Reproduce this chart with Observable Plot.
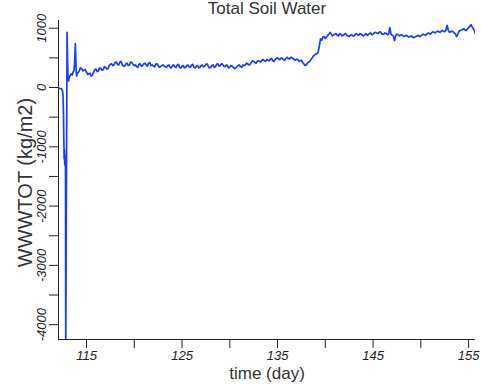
<!DOCTYPE html>
<html><head><meta charset="utf-8">
<script src="https://cdn.jsdelivr.net/npm/d3@7"></script>
<script src="https://cdn.jsdelivr.net/npm/@observablehq/plot@0.6"></script>
<style>body{margin:0;background:#fff} svg{display:block}</style>
</head><body><div id="chart"></div>
<script>
const title = "Total Soil Water";
const xLabel = "time (day)";
const yLabel = "WWWTOT (kg/m2)";
const xDomain = [112.07, 155.72];
const yDomain = [-4250, 1130];
const xTicks = [115, 120, 125, 130, 135, 140, 145, 150, 155];
const xTickLabels = [115, 125, 135, 145, 155];
const yTicks = [-4000, -3500, -3000, -2500, -2000, -1500, -1000, -500, 0, 500, 1000];
const yTickLabels = [-4000, -3000, -2000, -1000, 0, 1000];

// start-up transient
const earlyDays = [112.07,112.2,112.35,112.45,112.5,112.55,112.6,112.63,112.66,112.69,112.72,112.75,112.78,112.8,112.83,112.97,113.02,113.07,113.12,113.2,113.3,113.4,113.5,113.6,113.7,113.77,113.83,113.87,113.92,113.97];
const earlyVals = [-10,-15,-20,-35,-70,-160,-520,-900,-1200,-1050,-1300,-1230,-1330,-1150,-4400,930,450,150,110,170,200,230,210,260,290,450,740,560,280,190];

// main record, every 0.25 day from day 114 (mainVals) and the readings half-way between (midVals)
const mainStart = 114.0;
const mainStep = 0.25;
const mainVals = [
230,280,320,290,260,230,190,260,310,280,320,300,340,320,390,370,420,390,430,380,
360,410,380,420,370,350,390,360,400,380,410,370,360,390,370,350,380,350,370,340,
370,350,380,340,360,330,370,350,380,340,360,330,370,350,390,360,340,380,350,400,
370,390,350,370,340,360,320,350,380,340,370,410,380,420,440,410,450,430,470,440,
460,480,450,470,500,470,490,460,510,480,500,470,480,440,460,400,380,430,470,530,
560,600,820,850,830,880,930,870,900,880,910,870,900,880,860,890,870,910,880,900,
870,910,890,920,900,930,910,940,900,920,890,1010,880,790,900,870,890,860,880,850,
870,840,860,880,870,900,880,920,900,940,920,950,930,960,940,1050,930,950,920,860,
950,970,990,960,1010,1060,990,890];
const midVals = [
250,330,280,300,220,240,210,300,270,330,290,350,310,370,400,380,430,380,440,360,
400,370,430,390,380,340,400,370,410,360,420,380,350,400,340,370,360,340,380,330,
380,340,390,330,370,340,380,340,390,330,370,340,380,360,400,330,370,340,390,360,
400,360,380,330,370,340,330,370,350,380,380,400,390,450,420,440,440,460,450,470,
450,490,440,490,480,500,470,490,490,510,490,460,470,450,420,370,410,440,500,550,
570,700,800,860,850,900,900,890,910,870,900,880,910,870,880,870,900,890,910,880,
890,880,910,890,920,920,930,910,900,910,900,900,870,880,890,880,870,870,860,860,
850,850,870,860,890,890,900,910,920,930,940,940,950,950,970,960,940,940,900,900,
960,980,970,990,1030,1020,950];

const data = earlyDays.map((d, i) => ({day: d, v: earlyVals[i]}));
mainVals.forEach((v, i) => {
  data.push({day: mainStart + i * mainStep, v});
  if (i < midVals.length) data.push({day: mainStart + (i + 0.5) * mainStep, v: midVals[i]});
});

const font = "'Liberation Sans', Arial, Helvetica, sans-serif";
const ink = "#222";

const chart = Plot.plot({
  width: 481,
  height: 384,
  marginLeft: 58,
  marginRight: 6,
  marginTop: 20,
  marginBottom: 45,
  style: {fontFamily: font, background: "#fff", color: ink},
  x: {domain: xDomain},
  y: {domain: yDomain},
  marks: [
    Plot.axisX({ticks: xTicks, tickSize: 9, tickPadding: 2, fontSize: 13, fontStyle: "italic",
      tickFormat: d => xTickLabels.includes(d) ? String(d) : "", label: null, stroke: ink}),
    Plot.axisY({ticks: yTicks, tickSize: 9, tickFormat: () => "", label: null, stroke: ink}),
    Plot.text(yTickLabels, {frameAnchor: "left", y: d => d, text: d => String(d), rotate: -90,
      dx: -13, lineAnchor: "bottom", textAnchor: "middle", fontSize: 13, fontStyle: "italic", fill: ink}),
    Plot.ruleX([xDomain[0]], {stroke: ink}),
    Plot.ruleY([yDomain[0]], {stroke: ink}),
    Plot.line(data, {x: "day", y: "v", stroke: "#1540ff", strokeWidth: 1.7, clip: true}),
    Plot.text([title], {frameAnchor: "top", lineAnchor: "bottom", dy: -7, fontSize: 17, fill: "#333"}),
    Plot.text([xLabel], {frameAnchor: "bottom", lineAnchor: "bottom", dy: 39, fontSize: 17, fill: "#333"}),
    Plot.text([yLabel], {frameAnchor: "left", rotate: -90, lineAnchor: "bottom", textAnchor: "middle",
      dx: -26.5, dy: 2.5, fontSize: 20, fill: "#333"})
  ]
});
document.getElementById("chart").appendChild(chart);
</script></body></html>
